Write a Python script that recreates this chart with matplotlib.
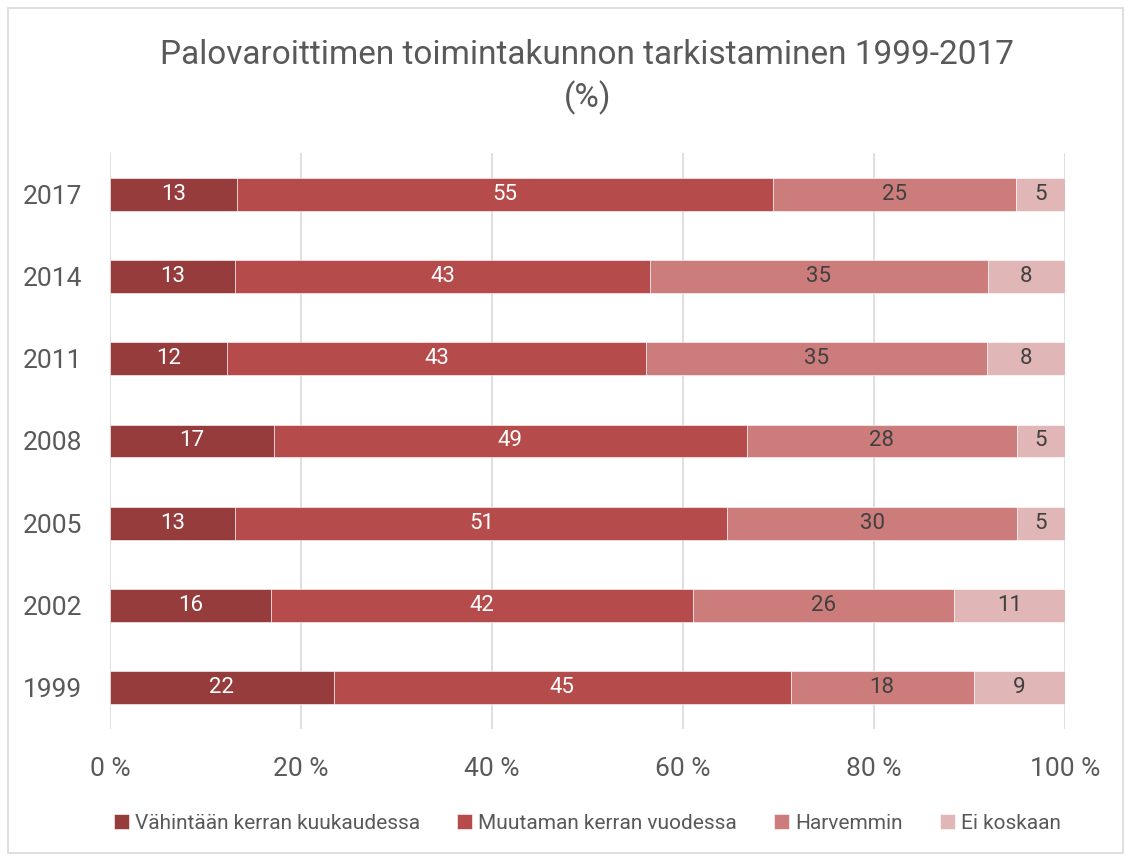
import matplotlib.pyplot as plt
import numpy as np
from matplotlib.patches import Rectangle

plt.rcParams['font.family'] = ['Liberation Sans Narrow', 'Roboto', 'DejaVu Sans']

years = ['1999', '2002', '2005', '2008', '2011', '2014', '2017']
monthly = [22, 16, 13, 17, 12, 13, 13]
few_times = [45, 42, 51, 49, 43, 43, 55]
rarely = [18, 26, 30, 28, 35, 35, 25]
never = [9, 11, 5, 5, 8, 8, 5]

labels = ['Vähintään kerran kuukaudessa', 'Muutaman kerran vuodessa', 'Harvemmin', 'Ei koskaan']
colors = ['#963c3c', '#b54b4a', '#cc7c7b', '#e0b6b6']
text_colors = ['white', 'white', '#404040', '#404040']

series = np.array([monthly, few_times, rarely, never], dtype=float)
shares = series / series.sum(axis=0) * 100

fig = plt.figure(figsize=(11.26, 8.56), dpi=100)
fig.patches.append(Rectangle((0.007, 0.003), 0.99, 0.988, transform=fig.transFigure,
                             fill=False, edgecolor='#d9d9d9', linewidth=1.2))
ax = fig.add_axes([0.0977, 0.1484, 0.8481, 0.6729])

y = np.arange(len(years))
left = np.zeros(len(years))
for i in range(4):
    ax.barh(y, shares[i], left=left, height=0.4, color=colors[i], label=labels[i],
            edgecolor='white', linewidth=0.4, zorder=3)
    for j in range(len(years)):
        ax.text(left[j] + shares[i][j] / 2, y[j], '%d' % series[i][j], ha='center', va='center',
                color=text_colors[i], fontsize=16, zorder=4)
    left += shares[i]

ax.set_xlim(0, 100)
ax.set_ylim(-0.5, len(years) - 0.5)
ax.set_yticks(y)
ax.set_yticklabels(years, fontsize=19, color='#595959')
ax.set_xticks(np.arange(0, 101, 20))
ax.set_xticklabels(['%d %%' % v for v in range(0, 101, 20)], fontsize=19, color='#595959')
ax.tick_params(axis='y', length=0, pad=20)
ax.tick_params(axis='x', length=0, pad=20)
ax.grid(axis='x', color='#d9d9d9', linewidth=1.2, zorder=0)
for s in ax.spines.values():
    s.set_visible(False)

ax.set_title('Palovaroittimen toimintakunnon tarkistaminen 1999-2017\n(%)', fontsize=24,
             color='#595959', pad=33, linespacing=1.35)

ax.legend(loc='upper center', bbox_to_anchor=(0.5, -0.115), ncol=4, frameon=False,
          fontsize=15, labelcolor='#595959', handlelength=0.7, handleheight=0.7,
          handletextpad=0.3, columnspacing=1.8)

fig.savefig('out.png', dpi=100)
